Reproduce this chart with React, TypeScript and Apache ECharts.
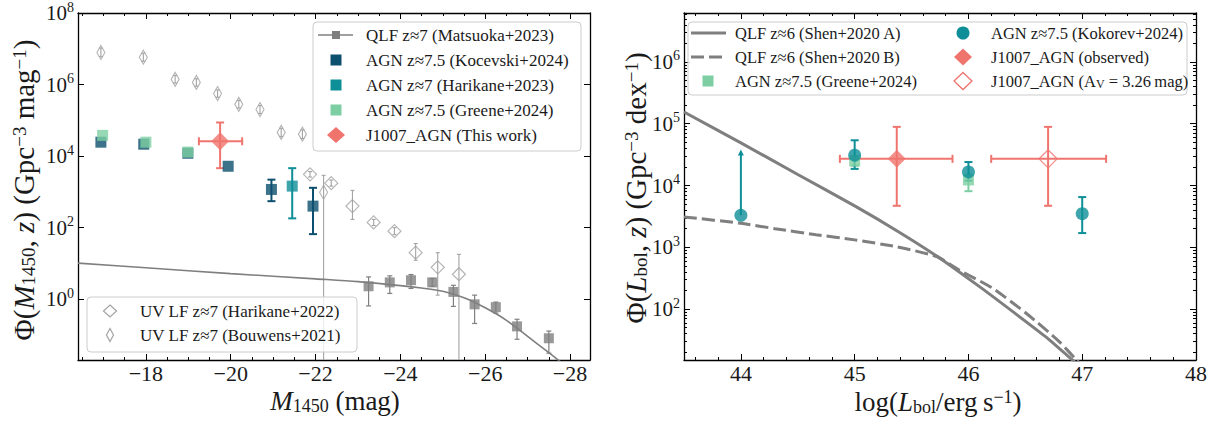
import React, { useEffect, useRef } from "react";
import * as echarts from "echarts";

const FONT = '"Liberation Serif", "DejaVu Serif", serif';
const TXT = "#1a1a1a";
const GRAY = "#7f7f7f";
const LGRAY = "#a3a3a3";
const KOC = "#0d4f6e";
const HAR = "#0e8f97";
const GRE = "#7dcfa3";
const JC = "#f0746e";

// ---------------- Left panel (M1450) ----------------
const qlfLineM = [-16.4, -18, -20, -22, -23, -24, -24.5, -25, -25.5, -26, -26.5, -27, -27.5, -28];
const qlfLinePhi = [10.2, 7.6, 5.2, 3.7, 3.1, 2.4, 2.05, 1.66, 1.1, 0.575, 0.257, 0.091, 0.032, 0.011];

const matsM = [-23.25, -23.75, -24.25, -24.75, -25.25, -25.75, -26.25, -26.75, -27.5];
const matsPhi = [2.3, 2.95, 3.4, 2.95, 1.6, 0.72, 0.6, 0.174, 0.081];
const matsLo = [0.65, 1.45, 2.0, 2.3, 0.63, 0.21, 0.41, 0.076, 0.031];
const matsHi = [4.2, 4.5, 4.9, 3.8, 2.45, 1.3, 0.83, 0.275, 0.129];

const bouM = [-16.94, -17.94, -18.69, -19.19, -19.69, -20.19, -20.69, -21.19, -21.69, -22.19];
const bouPhi = [7.9e6, 5.8e6, 1.4e6, 1.15e6, 5.6e5, 2.8e5, 2.0e5, 4.6e4, 4.1e4, 980];
const bouLo = [6.0e6, 4.5e6, 1.1e6, 0.9e6, 4.4e5, 2.2e5, 1.55e5, 3.5e4, 3.1e4, 0.005];
const bouHi = [1.05e7, 7.5e6, 1.8e6, 1.45e6, 7.1e5, 3.6e5, 2.6e5, 6.0e4, 5.4e4, 2900];

const har22M = [-21.87, -22.37, -22.87, -23.37, -23.86, -24.36, -24.88, -25.38];
const har22Phi = [3100, 1750, 400, 140, 80, 20, 7.8, 5.0];
const har22Lo = [2600, 1450, 170, 115, 64, 12.3, 1.3, 0.005];
const har22Hi = [3700, 2150, 1100, 170, 100, 36, 20, 18];

const kocM = [-16.94, -17.95, -18.99, -19.94, -20.96, -21.94];
const kocPhi = [2.45e4, 2.15e4, 1.2e4, 5.2e3, 1170, 400];
const kocLo = [2.45e4, 2.15e4, 1.2e4, 5.2e3, 550, 66];
const kocHi = [2.45e4, 2.15e4, 1.2e4, 5.2e3, 2200, 1300];

const har23M = [-21.45];
const har23Phi = [1450];
const har23Lo = [182];
const har23Hi = [4600];

const greLM = [-16.98, -18.0, -18.99];
const greLPhi = [3.8e4, 2.45e4, 1.3e4];

const jLM = [-19.75];
const jLPhi = [2.6e4];
const jLXlo = [-19.25];
const jLXhi = [-20.27];
const jLYlo = [4600];
const jLYhi = [8.7e4];

// ---------------- Right panel (Lbol) ----------------
const shenAL = [43.5, 44, 44.5, 45, 45.37, 45.72, 46.1, 46.39, 46.68, 46.9, 47.0];
const shenAPhi = [1.55e5, 4.9e4, 1.51e4, 4.68e3, 1.86e3, 724, 229, 91, 35.5, 15.8, 11];

const shenBL = [43.5, 44, 44.3, 44.66, 45.0, 45.37, 45.72, 45.92, 46.21, 46.51, 46.8, 46.95, 47.05];
const shenBPhi = [3.1e3, 2.45e3, 2.0e3, 1.6e3, 1.32e3, 1.02e3, 710, 427, 219, 85, 29.5, 15, 10];

const kokL = [44, 45, 46, 47];
const kokPhi = [3.3e3, 3.1e4, 1.66e4, 3.5e3];
const kokLo = [3.3e3, 1.86e4, 1.2e4, 1.7e3];
const kokHi = [3.3e3, 5.4e4, 2.4e4, 6.5e3];
const kokLimL = [44];
const kokLimFrom = [3.3e3];
const kokLimTo = [3.7e4];

const greRL = [45, 46];
const greRPhi = [2.5e4, 1.23e4];
const greRLo = [2.1e4, 8.1e3];
const greRHi = [3.0e4, 1.5e4];

const jObsL = [45.37];
const jObsPhi = [2.7e4];
const jObsXlo = [44.87];
const jObsXhi = [45.86];
const jObsYlo = [4.7e3];
const jObsYhi = [8.9e4];

const jAvL = [46.7];
const jAvPhi = [2.7e4];
const jAvXlo = [46.2];
const jAvXhi = [47.21];
const jAvYlo = [4.7e3];
const jAvYhi = [8.9e4];

// ---------------- Ticks ----------------
const leftXMajor = [-18, -20, -22, -24, -26, -28];
const leftYMajor = [1, 1e2, 1e4, 1e6, 1e8];
const rightXMajor = [44, 45, 46, 47, 48];
const rightYMajor = [1e2, 1e3, 1e4, 1e5, 1e6];

const leftXMinor: number[] = [];
for (let k = 33; k <= 56; k++) if (k % 4 !== 0) leftXMinor.push(-k / 2);
const rightXMinor: number[] = [];
for (let k = 218; k <= 239; k++) if (k % 5 !== 0) rightXMinor.push(k / 5);
const rightYMinor: number[] = [];
for (let e = 1; e <= 6; e++) for (let m = 2; m <= 9; m++) {
  const v = m * Math.pow(10, e);
  if (v >= 15 && v <= 6.2e6) rightYMinor.push(v);
}

const fmtNum = (v: number) => (v < 0 ? "\u2212" + Math.abs(v) : String(v));
const fmtPow = (v: number) => `{b|10}{s|${Math.round(Math.log10(v))}}`;

const powRich = {
  b: { fontSize: 21, fontFamily: FONT, color: TXT, lineHeight: 26 },
  s: { fontSize: 14, fontFamily: FONT, color: TXT, lineHeight: 12, verticalAlign: "top" },
};

function xAx(gridIndex: number, position: string, min: number, max: number, inverse: boolean,
  ticks: number[], len: number, line: boolean, labels: boolean) {
  return {
    type: "value", gridIndex, position, min, max, inverse,
    axisLine: { show: line, onZero: false, lineStyle: { color: "#000", width: 1.3 } },
    axisTick: { show: true, inside: true, length: len, customValues: ticks, lineStyle: { color: "#000", width: 1 } },
    axisLabel: labels
      ? { show: true, customValues: ticks, margin: 2, fontSize: 22, lineHeight: 22, fontFamily: FONT, color: TXT, formatter: fmtNum }
      : { show: false },
    splitLine: { show: false },
  };
}

function yAx(gridIndex: number, position: string, min: number, max: number,
  ticks: number[], len: number, line: boolean, labels: boolean) {
  return {
    type: "log", logBase: 10, gridIndex, position, min, max,
    axisLine: { show: line, onZero: false, lineStyle: { color: "#000", width: 1.3 } },
    axisTick: { show: true, inside: true, length: len, customValues: ticks, lineStyle: { color: "#000", width: 1 } },
    axisLabel: labels
      ? { show: true, customValues: ticks, margin: 4, formatter: fmtPow, rich: powRich }
      : { show: false },
    splitLine: { show: false },
  };
}

function errSeries(xi: number, yi: number, xs: number[], ys: number[], xlo: number[] | null, xhi: number[] | null,
  ylo: number[], yhi: number[], color: string, lw: number, cap: number) {
  const rows = xs.map((x, i) => [x, ys[i], xlo ? xlo[i] : x, xhi ? xhi[i] : x, ylo[i], yhi[i]]);
  return {
    type: "custom", xAxisIndex: xi, yAxisIndex: yi, clip: true, z: 2, silent: true,
    encode: { x: 0, y: 1 },
    data: rows,
    renderItem: (_p: any, api: any) => {
      const x = api.value(0), y = api.value(1);
      const x0 = api.value(2), x1 = api.value(3), y0 = api.value(4), y1 = api.value(5);
      const st = { stroke: color, lineWidth: lw, fill: "none" };
      const ch: any[] = [];
      const seg = (a: number[], b: number[]) =>
        ch.push({ type: "line", shape: { x1: a[0], y1: a[1], x2: b[0], y2: b[1] }, style: st });
      if (y0 !== y1) {
        const a = api.coord([x, y0]), b = api.coord([x, y1]);
        seg(a, b);
        if (cap > 0) { seg([a[0] - cap, a[1]], [a[0] + cap, a[1]]); seg([b[0] - cap, b[1]], [b[0] + cap, b[1]]); }
      }
      if (x0 !== x1) {
        const a = api.coord([x0, y]), b = api.coord([x1, y]);
        seg(a, b);
        if (cap > 0) { seg([a[0], a[1] - cap], [a[0], a[1] + cap]); seg([b[0], b[1] - cap], [b[0], b[1] + cap]); }
      }
      return { type: "group", children: ch };
    },
  };
}

function arrowSeries(xi: number, yi: number, xs: number[], from: number[], to: number[], color: string) {
  return {
    type: "custom", xAxisIndex: xi, yAxisIndex: yi, clip: true, z: 2, silent: true,
    encode: { x: 0, y: 1 },
    data: xs.map((x, i) => [x, from[i], to[i]]),
    renderItem: (_p: any, api: any) => {
      const a = api.coord([api.value(0), api.value(1)]);
      const b = api.coord([api.value(0), api.value(2)]);
      return {
        type: "group",
        children: [
          { type: "line", shape: { x1: a[0], y1: a[1], x2: b[0], y2: b[1] + 3 }, style: { stroke: color, lineWidth: 2 } },
          { type: "polygon", shape: { points: [[b[0], b[1] - 1], [b[0] - 3, b[1] + 5], [b[0] + 3, b[1] + 5]] }, style: { fill: color } },
        ],
      };
    },
  };
}

function scat(name: string, xi: number, yi: number, xs: number[], ys: number[], symbol: string,
  size: any, itemStyle: any, z = 3) {
  return {
    type: "scatter", name, xAxisIndex: xi, yAxisIndex: yi, silent: true, z,
    data: xs.map((x, i) => [x, ys[i]]), symbol, symbolSize: size, itemStyle,
  };
}

function lineS(name: string, xi: number, yi: number, xs: number[], ys: number[], lineStyle: any, smooth = 0.2) {
  return {
    type: "line", name, xAxisIndex: xi, yAxisIndex: yi, silent: true, z: 2, symbol: "none", smooth,
    data: xs.map((x, i) => [x, ys[i]]), lineStyle,
  };
}

// --------- graphic helpers (legends, titles) ---------
const diamondPts = (cx: number, cy: number, w: number, h: number) =>
  [[cx, cy - h / 2], [cx + w / 2, cy], [cx, cy + h / 2], [cx - w / 2, cy]];

function box(x: number, y: number, w: number, h: number) {
  return { type: "rect", z: 99, shape: { x, y, width: w, height: h, r: 4 },
    style: { fill: "rgba(255,255,255,0.8)", stroke: "#cccccc", lineWidth: 1 } };
}
function sq(cx: number, cy: number, s: number, color: string) {
  return { type: "rect", z: 100, shape: { x: cx - s / 2, y: cy - s / 2, width: s, height: s }, style: { fill: color } };
}
function dia(cx: number, cy: number, w: number, h: number, fill: string, stroke?: string, lw = 1.2) {
  return { type: "polygon", z: 100, shape: { points: diamondPts(cx, cy, w, h) },
    style: { fill, stroke: stroke || "none", lineWidth: lw } };
}
function seg(x1: number, y1: number, x2: number, y2: number, color: string, lw: number, dash?: number[]) {
  return { type: "line", z: 100, shape: { x1, y1, x2, y2 }, style: { stroke: color, lineWidth: lw, lineDash: dash } };
}
const legRich = {
  sub: { fontSize: 12, fontFamily: FONT, color: TXT, lineHeight: 8, verticalAlign: "bottom" },
};
function label(x: number, y: number, text: string, size = 17) {
  return { type: "text", z: 101, x, y,
    style: { text, font: `${size}px ${FONT}`, fill: TXT, textAlign: "left", textVerticalAlign: "middle", rich: legRich } };
}

function mkRich(T: number, TS: number) {
  return {
    n: { fontSize: T, fontFamily: FONT, color: TXT, lineHeight: 28 },
    i: { fontSize: T, fontFamily: FONT, fontStyle: "italic", color: TXT, lineHeight: 28 },
    sub: { fontSize: TS, fontFamily: FONT, color: TXT, lineHeight: 16, verticalAlign: "bottom" },
    sup: { fontSize: TS, fontFamily: FONT, color: TXT, lineHeight: 16, verticalAlign: "top" },
  };
}
const xTitleRich = mkRich(27, 18);
const yTitleRich = mkRich(29, 19);
function title(x: number, y: number, text: string, rich: any, rotation = 0) {
  return { type: "text", z: 101, x, y, rotation,
    style: { text, rich, textAlign: "center", textVerticalAlign: "middle", fill: TXT } };
}

function buildOption() {
  const graphic: any[] = [
    // left top legend
    box(313, 22, 268, 129),
    seg(318, 35, 353, 35, GRAY, 1.6), sq(336, 35, 8, GRAY),
    label(366, 35, "QLF z\u22487 (Matsuoka+2023)"),
    sq(336, 60, 11, KOC), label(366, 60, "AGN z\u22487.5 (Kocevski+2024)"),
    sq(336, 85, 11, HAR), label(366, 85, "AGN z\u22487 (Harikane+2023)"),
    sq(336, 110, 11, GRE), label(366, 110, "AGN z\u22487.5 (Greene+2024)"),
    dia(336, 135, 18, 16, JC), label(366, 135, "J1007_AGN (This work)"),
    // left bottom legend
    box(87, 297, 270, 55),
    dia(110, 311, 13, 12, "none", LGRAY), label(140, 311, "UV LF z\u22487 (Harikane+2022)"),
    dia(110, 335, 7, 13, "none", LGRAY), label(140, 335, "UV LF z\u22487 (Bouwens+2021)"),
    // right legend
    box(688, 22, 499, 73),
    seg(691, 33, 726, 33, GRAY, 3), label(735, 33, "QLF z\u22486 (Shen+2020\u2009A)", 16.5),
    seg(691, 57, 726, 57, GRAY, 3, [13, 5]), label(735, 57, "QLF z\u22486 (Shen+2020\u2009B)", 16.5),
    sq(708, 81, 11, GRE), label(735, 81, "AGN z\u22487.5 (Greene+2024)", 16.5),
    { type: "circle", z: 100, shape: { cx: 963, cy: 33, r: 6.5 }, style: { fill: HAR } },
    label(991, 33, "AGN z\u22487.5 (Kokorev+2024)", 16.5),
    dia(963, 57, 18, 17, JC), label(991, 57, "J1007_AGN (observed)", 16.5),
    dia(963, 81, 18, 17, "#fff", JC, 1.3), label(991, 81, "J1007_AGN (A{sub|V} = 3.26\u2009mag)", 16.5),
    // axis titles
    title(24, 190, "{n|\u03a6(}{i|M}{sub|1450}{n|, }{i|z}{n|) (Gpc}{sup|\u22123}{n| mag}{sup|\u22121}{n|)}", yTitleRich, Math.PI / 2),
    title(335, 401, "{i|M}{sub|1450}{n| (mag)}", xTitleRich),
    title(636, 188, "{n|\u03a6(}{i|L}{sub|bol}{n|, }{i|z}{n|) (Gpc}{sup|\u22123}{n| dex}{sup|\u22121}{n|)}", yTitleRich, Math.PI / 2),
    title(938, 402, "{n|log(}{i|L}{sub|bol}{n|/erg\u2009s}{sup|\u22121}{n|)}", xTitleRich),
  ];

  const LXMIN = -28.47, LXMAX = -16.4, LYMIN = 0.02, LYMAX = 1e8;
  const RXMIN = 43.5, RXMAX = 48, RYMIN = 15, RYMAX = 6.2e6;

  return {
    animation: false,
    backgroundColor: "#fff",
    textStyle: { fontFamily: FONT },
    grid: [
      { left: 78, top: 13, width: 512, height: 347 },
      { left: 684, top: 13, width: 512, height: 347 },
    ],
    xAxis: [
      xAx(0, "bottom", LXMIN, LXMAX, true, leftXMajor, 6, true, true),
      xAx(0, "bottom", LXMIN, LXMAX, true, leftXMinor, 3, false, false),
      xAx(0, "top", LXMIN, LXMAX, true, leftXMajor, 6, true, false),
      xAx(0, "top", LXMIN, LXMAX, true, leftXMinor, 3, false, false),
      xAx(1, "bottom", RXMIN, RXMAX, false, rightXMajor, 6, true, true),
      xAx(1, "bottom", RXMIN, RXMAX, false, rightXMinor, 3, false, false),
      xAx(1, "top", RXMIN, RXMAX, false, rightXMajor, 6, true, false),
      xAx(1, "top", RXMIN, RXMAX, false, rightXMinor, 3, false, false),
    ],
    yAxis: [
      yAx(0, "left", LYMIN, LYMAX, leftYMajor, 6, true, true),
      yAx(0, "right", LYMIN, LYMAX, leftYMajor, 6, true, false),
      yAx(1, "left", RYMIN, RYMAX, rightYMajor, 6, true, true),
      yAx(1, "left", RYMIN, RYMAX, rightYMinor, 3, false, false),
      yAx(1, "right", RYMIN, RYMAX, rightYMajor, 6, true, false),
      yAx(1, "right", RYMIN, RYMAX, rightYMinor, 3, false, false),
    ],
    graphic,
    series: [
      // left panel
      lineS("QLF z\u22487 (Matsuoka+2023)", 0, 0, qlfLineM, qlfLinePhi, { color: GRAY, width: 1.6 }, 0.3),
      errSeries(0, 0, bouM, bouPhi, null, null, bouLo, bouHi, LGRAY, 1.1, 2),
      scat("UV LF z\u22487 (Bouwens+2021)", 0, 0, bouM, bouPhi, "diamond", [8, 14],
        { color: "rgba(0,0,0,0)", borderColor: LGRAY, borderWidth: 1.2 }),
      errSeries(0, 0, har22M, har22Phi, null, null, har22Lo, har22Hi, LGRAY, 1.1, 2),
      scat("UV LF z\u22487 (Harikane+2022)", 0, 0, har22M, har22Phi, "diamond", [13, 13],
        { color: "rgba(0,0,0,0)", borderColor: LGRAY, borderWidth: 1.2 }),
      errSeries(0, 0, matsM, matsPhi, null, null, matsLo, matsHi, GRAY, 1.2, 2.5),
      scat("QLF data", 0, 0, matsM, matsPhi, "rect", 10, { color: GRAY }),
      errSeries(0, 0, kocM, kocPhi, null, null, kocLo, kocHi, KOC, 2, 4),
      scat("AGN z\u22487.5 (Kocevski+2024)", 0, 0, kocM, kocPhi, "rect", 11, { color: KOC }),
      errSeries(0, 0, har23M, har23Phi, null, null, har23Lo, har23Hi, HAR, 2, 4),
      scat("AGN z\u22487 (Harikane+2023)", 0, 0, har23M, har23Phi, "rect", 11, { color: HAR }),
      scat("AGN z\u22487.5 (Greene+2024)", 0, 0, greLM, greLPhi, "rect", 11, { color: GRE }, 4),
      errSeries(0, 0, jLM, jLPhi, jLXlo, jLXhi, jLYlo, jLYhi, JC, 2, 4),
      scat("J1007_AGN (This work)", 0, 0, jLM, jLPhi, "diamond", [18, 18], { color: JC }, 5),
      // right panel
      lineS("QLF z\u22486 (Shen+2020 A)", 4, 2, shenAL, shenAPhi, { color: GRAY, width: 3 }),
      lineS("QLF z\u22486 (Shen+2020 B)", 4, 2, shenBL, shenBPhi, { color: GRAY, width: 3, type: [13, 5] }),
      errSeries(4, 2, greRL, greRPhi, null, null, greRLo, greRHi, GRE, 2, 4),
      scat("AGN z\u22487.5 (Greene+2024) R", 4, 2, greRL, greRPhi, "rect", 11, { color: GRE }),
      errSeries(4, 2, kokL, kokPhi, null, null, kokLo, kokHi, HAR, 2, 4),
      arrowSeries(4, 2, kokLimL, kokLimFrom, kokLimTo, HAR),
      scat("AGN z\u22487.5 (Kokorev+2024)", 4, 2, kokL, kokPhi, "circle", 13, { color: HAR }, 4),
      errSeries(4, 2, jObsL, jObsPhi, jObsXlo, jObsXhi, jObsYlo, jObsYhi, JC, 2, 4),
      scat("J1007_AGN (observed)", 4, 2, jObsL, jObsPhi, "diamond", [18, 18], { color: JC }, 5),
      errSeries(4, 2, jAvL, jAvPhi, jAvXlo, jAvXhi, jAvYlo, jAvYhi, JC, 2, 4),
      scat("J1007_AGN (Av)", 4, 2, jAvL, jAvPhi, "diamond", [18, 18],
        { color: "rgba(0,0,0,0)", borderColor: JC, borderWidth: 1.4 }, 5),
    ],
  };
}

export default function App() {
  const ref = useRef<HTMLDivElement>(null);
  useEffect(() => {
    const chart = echarts.init(ref.current!, null, { renderer: "svg" });
    chart.setOption(buildOption() as any);
    return () => chart.dispose();
  }, []);
  return (
    <div
      ref={ref}
      style={{ position: "fixed", left: 0, top: 0, width: 1219, height: 421, background: "#fff" }}
    />
  );
}
